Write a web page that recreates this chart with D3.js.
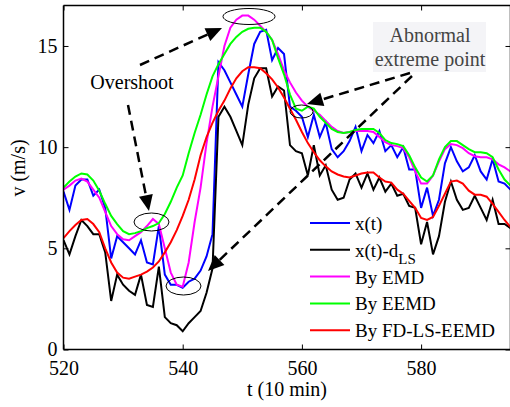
<!DOCTYPE html>
<html>
<head>
<meta charset="utf-8">
<script src="https://cdn.jsdelivr.net/npm/d3@7"></script>
<style>
  body { margin: 0; background: #fff; }
  svg { display: block; font-family: "Liberation Serif", "Times New Roman", serif; }
</style>
</head>
<body>
<svg id="chart" width="510" height="407"></svg>
<script>
// time index (10 min steps)
var tStart = 520, tEnd = 595;

var xt = [7.8, 6.9, 8.1, 8.4, 8.4, 7.6, 7.9, 7.0, 4.5, 5.6, 5.3, 5.0, 4.7, 5.4, 4.3, 4.2, 6.1, 3.7, 3.2, 3.2,
          3.05, 3.35, 3.5, 3.9, 4.6, 5.7, 14.2, 13.8, 13.2, 12.6, 12.0, 13.6, 15.1, 15.7, 15.8, 14.3, 14.9, 14.6, 12.0, 11.8,
          11.5, 10.5, 11.6, 10.5, 11.2, 9.9, 9.5, 9.8, 10.3, 11.0, 9.8, 10.6, 10.2, 10.8, 9.8, 10.1, 9.5, 10.0, 8.9, 8.9,
          7.0, 8.0, 6.6, 7.4, 9.2, 10.0, 9.3, 8.8, 9.0, 9.6, 8.8, 8.4, 9.4, 8.3, 8.2, 7.9];

var xtLS = [5.4, 4.7, 5.6, 6.4, 6.1, 5.7, 5.7, 4.8, 2.4, 3.7, 3.2, 2.9, 2.7, 3.7, 2.2, 2.1, 4.1, 1.6, 1.3, 1.2,
            0.9, 1.3, 1.6, 1.9, 2.8, 4.0, 11.5, 12.0, 11.5, 10.8, 10.1, 12.1, 13.4, 13.9, 13.9, 12.5, 13.0, 12.8, 10.1, 9.8,
            9.7, 8.6, 10.1, 8.6, 9.1, 7.9, 7.4, 7.5, 8.4, 8.7, 8.0, 8.7, 7.9, 8.5, 7.8, 8.2, 7.6, 7.7, 7.1, 7.0,
            5.2, 6.3, 4.7, 5.6, 7.3, 8.3, 7.4, 6.9, 7.0, 7.6, 7.0, 6.4, 7.4, 6.2, 6.2, 6.0];

var emd = [7.9, 8.1, 8.35, 8.45, 8.3, 7.9, 7.5, 6.8, 6.1, 5.7, 5.45, 5.4, 5.6, 5.8, 6.1, 6.45, 6.2, 5.0, 3.8, 3.2,
           3.1, 4.3, 6.3, 8.0, 10.2, 12.0, 13.5, 15.0, 15.9, 16.3, 16.5, 16.5, 16.3, 16.0, 15.7, 15.3, 14.6, 13.8, 13.2, 12.7,
           12.3, 12.0, 11.8, 11.6, 11.3, 11.0, 10.8, 10.7, 10.75, 10.8, 10.8, 10.8, 10.75, 10.5, 10.25, 10.1, 10.05, 9.95, 9.5, 8.8,
           8.2, 8.2, 8.6, 9.3, 9.9, 10.15, 10.1, 9.95, 9.7, 9.55, 9.5, 9.5, 9.4, 9.15, 9.0, 8.8];

var eemd = [8.0, 8.3, 8.55, 8.7, 8.65, 8.35, 7.85, 7.2, 6.6, 6.2, 5.85, 5.7, 5.75, 5.85, 6.0, 6.1, 6.25, 6.7, 7.3, 8.0,
            8.6, 9.7, 10.7, 11.6, 12.6, 13.5, 14.1, 14.6, 15.1, 15.45, 15.7, 15.85, 15.9, 15.9, 15.7, 15.3, 14.4, 13.6, 12.6, 11.9,
            11.8, 12.0, 11.9, 11.5, 11.2, 10.9, 10.75, 10.7, 10.75, 10.85, 10.9, 10.9, 10.9, 10.7, 10.35, 10.2, 10.15, 10.05, 9.6, 9.0,
            8.5, 8.3, 8.6, 9.4, 10.0, 10.3, 10.3, 10.1, 9.9, 9.75, 9.75, 9.7, 9.5, 8.9, 8.4, 8.1];

var fdls = [5.5, 5.85, 6.15, 6.4, 6.45, 6.2, 5.8, 5.0, 4.3, 3.8, 3.55, 3.5, 3.6, 3.7, 3.85, 4.05, 4.35, 4.8, 5.3, 5.9,
            6.6, 7.4, 8.4, 9.6, 10.5, 11.2, 11.8, 12.3, 12.9, 13.4, 13.75, 13.95, 13.95, 13.9, 13.65, 13.35, 12.95, 12.45, 11.9, 11.35,
            10.75, 10.2, 9.75, 9.35, 9.05, 8.8, 8.65, 8.55, 8.5, 8.6, 8.7, 8.75, 8.75, 8.5, 8.3, 8.25, 7.9, 7.7, 7.35, 7.0,
            6.5, 6.4, 6.55, 7.1, 7.7, 8.3, 8.35, 8.2, 7.85, 7.65, 7.65, 7.55, 7.2, 6.8, 6.4, 6.05];

var seriesNames = ["x(t)", "x(t)-d", "By EMD", "By EEMD", "By FD-LS-EEMD"];
var seriesColors = ["#0000ff", "#000000", "#ff00ff", "#00ff00", "#ff0000"];
var xTicks = [520, 540, 560, 580];
var yTicks = [0, 5, 10, 15];

var svg = d3.select("#chart");
var margin = {left: 63.5, top: 5.5, right: 510.5, bottom: 349.5};

var x = d3.scaleLinear().domain([tStart, tEnd]).range([margin.left, margin.right]);
var y = d3.scaleLinear().domain([0, 17]).range([margin.bottom, margin.top]);

var all = [xt, xtLS, emd, eemd, fdls];

svg.append("defs").append("clipPath").attr("id", "clip")
    .append("rect")
    .attr("x", margin.left).attr("y", margin.top)
    .attr("width", margin.right - margin.left).attr("height", margin.bottom - margin.top);

var line = d3.line()
    .x(function (d, i) { return x(tStart + i); })
    .y(function (d) { return y(d); });

svg.append("g")
    .attr("clip-path", "url(#clip)")
    .selectAll("path")
    .data(all)
    .enter()
    .append("path")
    .attr("d", line)
    .attr("fill", "none")
    .attr("stroke", function (d, i) { return seriesColors[i]; })
    .attr("stroke-width", 2)
    .attr("stroke-linejoin", "miter");

// axes, MATLAB style box with inward ticks
var fontSize = 20;
var gx = svg.append("g").attr("transform", "translate(0," + margin.bottom + ")")
    .call(d3.axisBottom(x).tickValues(xTicks).tickSize(-5).tickPadding(11).tickFormat(d3.format("d")));
var gxTop = svg.append("g").attr("transform", "translate(0," + margin.top + ")")
    .call(d3.axisTop(x).tickValues(xTicks).tickSize(-5).tickFormat(""));
var gy = svg.append("g").attr("transform", "translate(" + margin.left + ",0)")
    .call(d3.axisLeft(y).tickValues(yTicks).tickSize(-5).tickPadding(6));
var gyRight = svg.append("g").attr("transform", "translate(" + margin.right + ",0)")
    .call(d3.axisRight(y).tickValues(yTicks).tickSize(-5).tickFormat(""));

[gx, gxTop, gy, gyRight].forEach(function (g) {
    g.select(".domain").attr("stroke", "#000").attr("stroke-width", 1.5);
    g.selectAll(".tick line").attr("stroke", "#000").attr("stroke-width", 1);
    g.selectAll("text").attr("font-family", "Liberation Serif, serif").attr("font-size", fontSize).attr("fill", "#000");
});
gx.selectAll(".domain").attr("d", "M" + margin.left + ",0H" + margin.right);
gy.selectAll(".domain").attr("d", "M0," + margin.bottom + "V" + margin.top);
gxTop.selectAll(".domain").attr("d", "M" + margin.left + ",0H" + margin.right);
gyRight.selectAll(".domain").attr("d", "M0," + margin.bottom + "V" + margin.top);

svg.append("text")
    .attr("x", 287).attr("y", 396)
    .attr("text-anchor", "middle")
    .attr("font-size", fontSize)
    .text("t (10 min)");

svg.append("text")
    .attr("transform", "translate(25,168) rotate(-90)")
    .attr("text-anchor", "middle")
    .attr("font-size", fontSize)
    .text("v (m/s)");

// legend
var legend = svg.append("g").attr("transform", "translate(310,223)");
var item = legend.selectAll("g")
    .data(seriesNames)
    .enter()
    .append("g")
    .attr("transform", function (d, i) { return "translate(0," + (i * 26.8) + ")"; });
item.append("line")
    .attr("x1", 0).attr("x2", 40)
    .attr("stroke", function (d, i) { return seriesColors[i]; })
    .attr("stroke-width", 2);
var ltxt = item.append("text")
    .attr("x", 45).attr("y", 7)
    .attr("font-size", 19)
    .text(function (d) { return d; });
ltxt.filter(function (d, i) { return i == 1; })
    .append("tspan")
    .attr("dy", 7)
    .attr("font-size", 15)
    .text("LS");

// annotations
var ann = svg.append("g");

ann.append("rect")
    .attr("x", 373).attr("y", 22).attr("width", 113).attr("height", 50)
    .attr("fill", "#f4f4f7");
ann.append("text")
    .attr("x", 430).attr("y", 42)
    .attr("text-anchor", "middle")
    .attr("font-size", 20).attr("fill", "#444")
    .text("Abnormal");
ann.append("text")
    .attr("x", 430).attr("y", 66)
    .attr("text-anchor", "middle")
    .attr("font-size", 20).attr("fill", "#444")
    .text("extreme point");

ann.append("text")
    .attr("x", 132).attr("y", 89)
    .attr("text-anchor", "middle")
    .attr("font-size", 20)
    .text("Overshoot");

var ellipses = [
    {cx: 249, cy: 16.5, rx: 26, ry: 8},
    {cx: 301.5, cy: 111.5, rx: 11.5, ry: 6.5},
    {cx: 151.5, cy: 222, rx: 17.5, ry: 9},
    {cx: 183.5, cy: 286, rx: 17.5, ry: 9}
];
ann.selectAll("ellipse")
    .data(ellipses)
    .enter()
    .append("ellipse")
    .attr("cx", function (d) { return d.cx; })
    .attr("cy", function (d) { return d.cy; })
    .attr("rx", function (d) { return d.rx; })
    .attr("ry", function (d) { return d.ry; })
    .attr("fill", "none")
    .attr("stroke", "#000")
    .attr("stroke-width", 1);

var arrows = [
    [[140, 65], [222, 28]],
    [[128, 105], [149, 211]],
    [[410, 73], [307, 104]],
    [[412, 76], [208, 271]]
];

arrows.forEach(function (a) {
    var x0 = a[0][0], y0 = a[0][1], x1 = a[1][0], y1 = a[1][1];
    var ang = Math.atan2(y1 - y0, x1 - x0);
    var hl = 16, hw = 7;
    var bx = x1 - hl * Math.cos(ang), by = y1 - hl * Math.sin(ang);
    ann.append("line")
        .attr("x1", x0).attr("y1", y0)
        .attr("x2", bx).attr("y2", by)
        .attr("stroke", "#000")
        .attr("stroke-width", 2.5)
        .attr("stroke-dasharray", "10,6");
    var px = -Math.sin(ang) * hw, py = Math.cos(ang) * hw;
    ann.append("path")
        .attr("d", "M" + x1 + "," + y1 + "L" + (bx + px) + "," + (by + py) + "L" + (bx - px) + "," + (by - py) + "Z")
        .attr("fill", "#000");
});
</script>
</body>
</html>
